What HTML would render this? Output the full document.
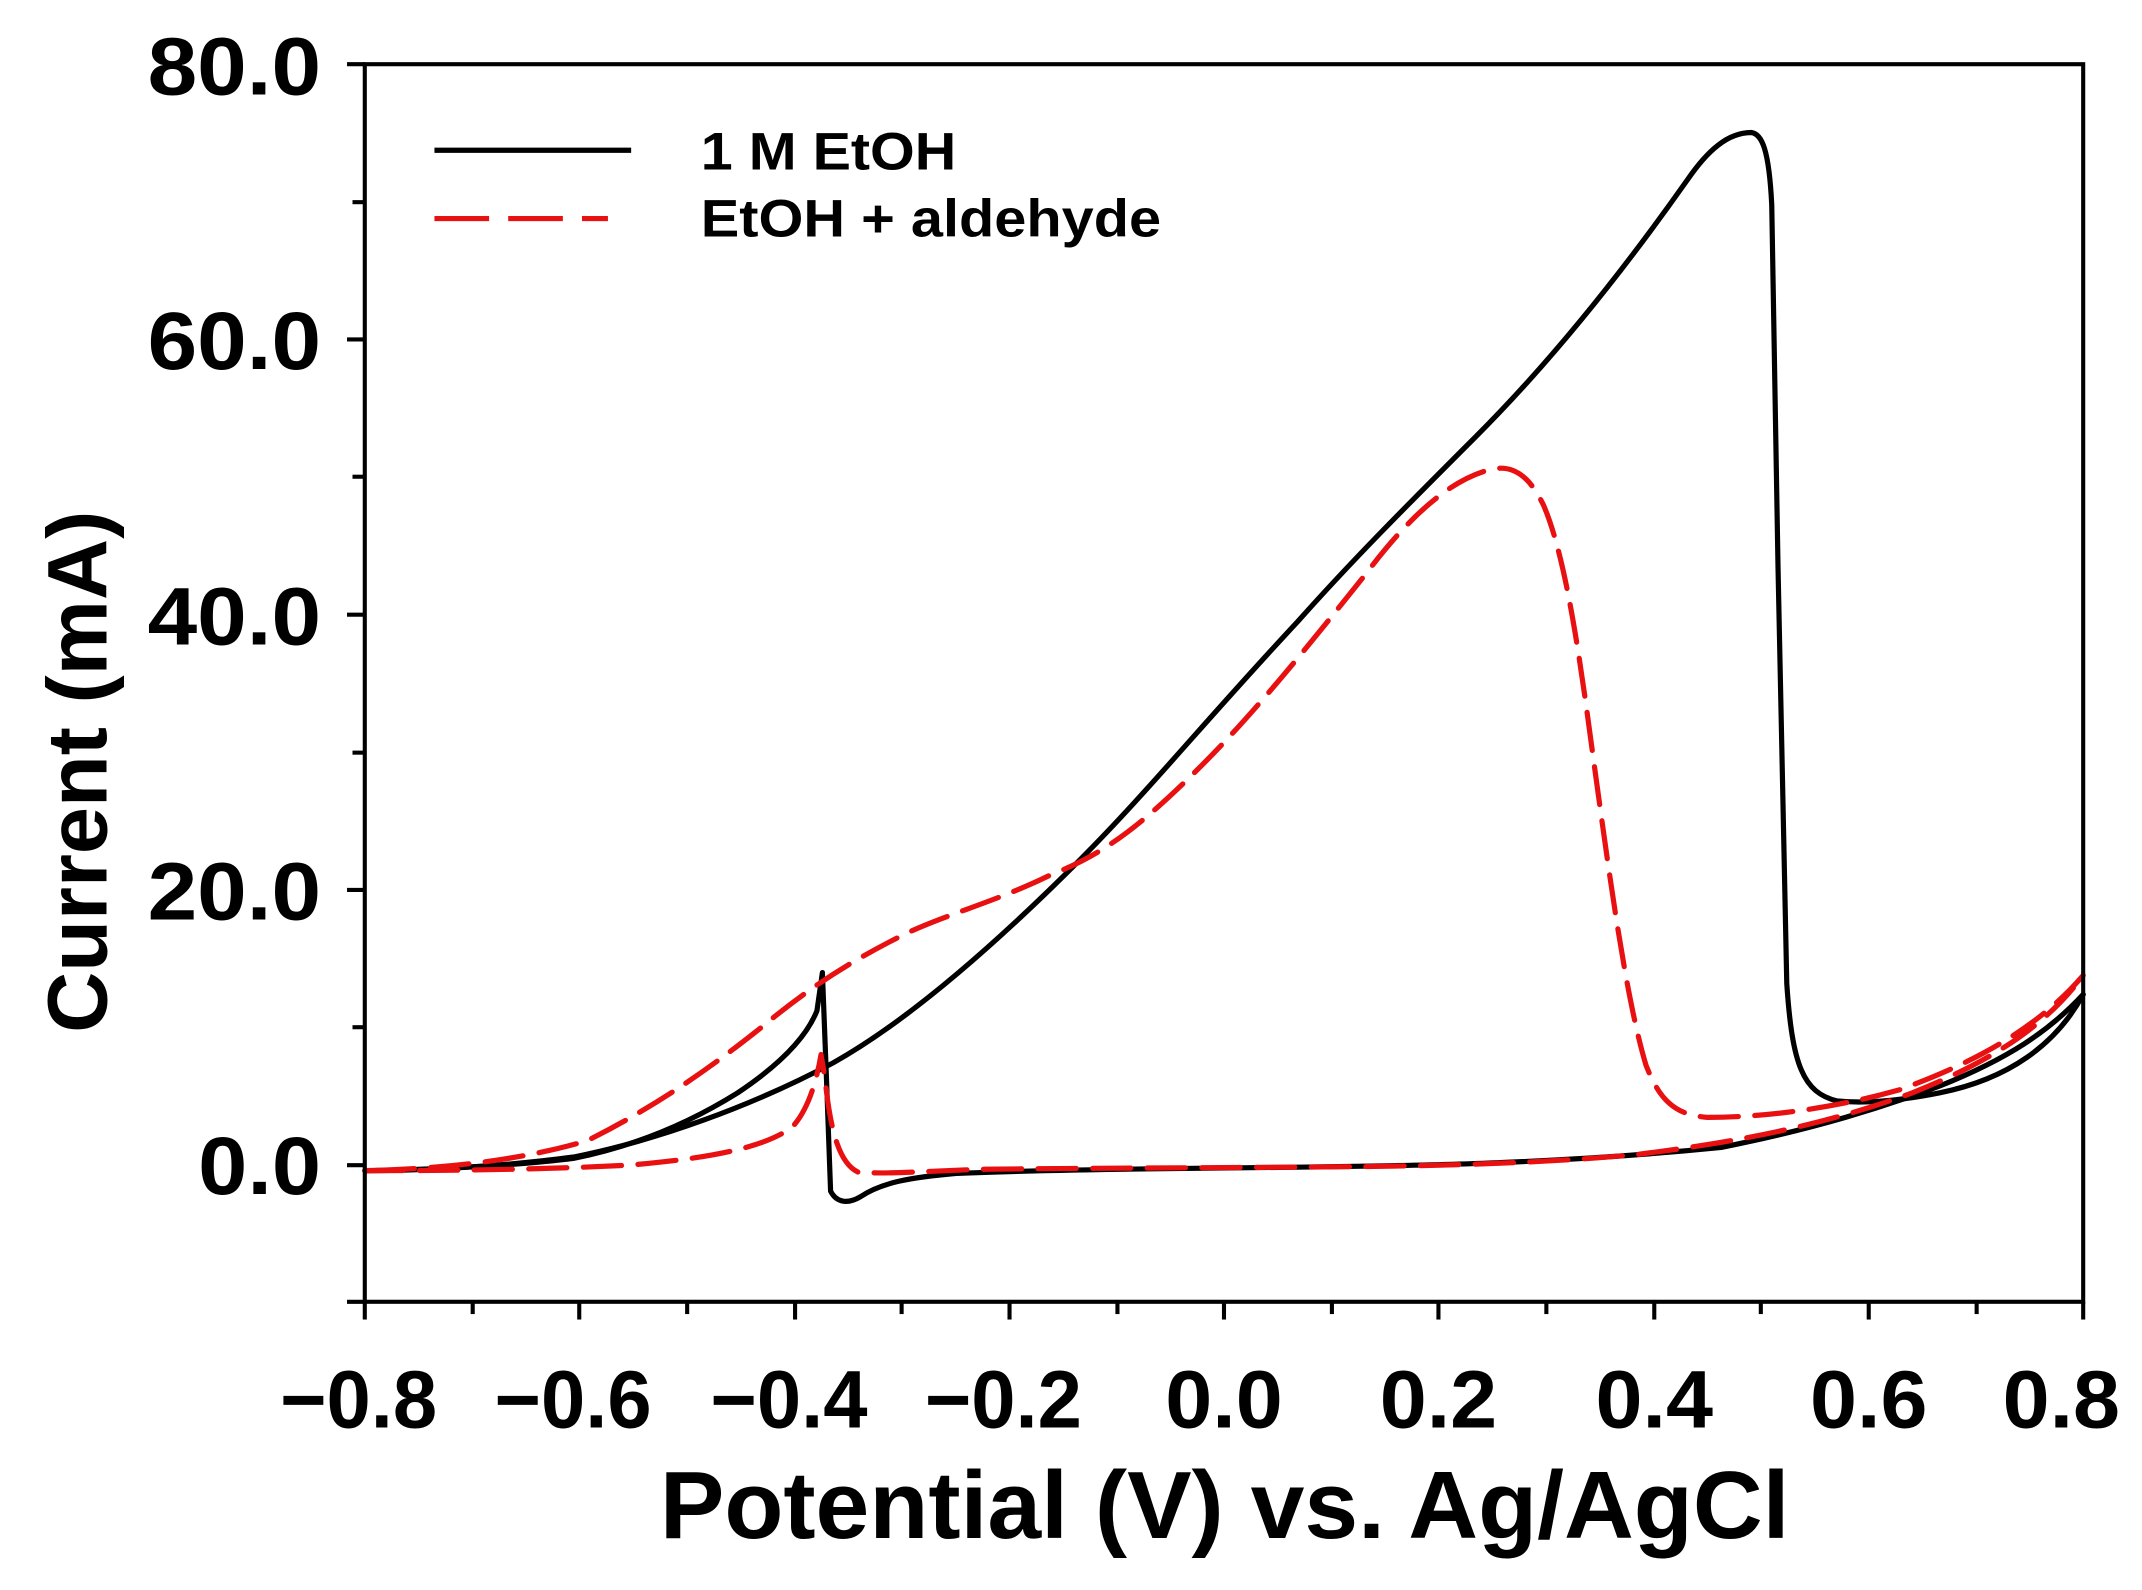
<!DOCTYPE html>
<html><head><style>html,body{margin:0;padding:0;background:#fff}svg{display:block}</style></head>
<body>
<svg width="2142" height="1590" viewBox="0 0 1568 1164" xmlns="http://www.w3.org/2000/svg">
<rect width="1568" height="1164" fill="#fff"/>
<g fill="none" stroke-linejoin="round" stroke-linecap="round">
<path stroke="#000" stroke-width="3.8" d="M267,857 C330,856 390,852 420,848 C460,840 500,825 540,800 C570,780 590,760 598,740 L602,712 L605,790 L608,872 C612,880 620,882 630,876 C645,866 665,862 700,859 C750,857 800,856 900,855 C1000,854 1060,853 1100,851 C1150,849 1200,846 1260,840 C1330,826 1380,810 1420,795 C1470,775 1500,755 1525,728"/>
<path stroke="#000" stroke-width="3.8" d="M1525,728 C1505,765 1470,790 1420,800 C1390,806 1365,808 1345,806 C1320,800 1312,780 1308,720 C1304,600 1300,300 1297,150 C1295,110 1290,98 1282,97 C1265,97 1250,110 1235,132 C1180,210 1130,270 1080,320 C1030,370 990,410 950,455 C880,530 840,580 790,630 C720,700 660,750 610,778 C550,810 480,835 420,847 C360,855 300,857 267,857"/>
<path stroke="#e81010" stroke-width="3.8" stroke-dasharray="28,12" d="M267,857 C340,857 400,856 460,853 C520,848 560,840 580,825 C592,812 598,790 601,772 L604,790 C608,830 615,852 628,858 C650,860 680,857 720,856 C800,855 900,855 1000,854 C1080,853 1150,850 1200,845 C1280,835 1340,822 1400,800 C1450,780 1495,755 1525,714"/>
<path stroke="#e81010" stroke-width="3.8" stroke-dasharray="28,12" d="M1525,714 C1490,755 1440,780 1390,798 C1340,812 1290,818 1250,818 C1225,816 1215,805 1205,780 C1190,730 1178,640 1165,545 C1155,470 1145,405 1130,370 C1118,345 1105,340 1090,344 C1060,352 1030,380 1000,420 C960,470 920,520 880,560 C840,600 810,625 770,640 C730,660 690,670 660,685 C620,705 590,725 560,750 C520,782 480,810 430,835 C380,850 320,856 267,857"/>
</g>
<rect x="267" y="47" width="1258" height="906" fill="none" stroke="#000" stroke-width="3"/>
<g stroke="#000" stroke-width="3">
<line x1="254" y1="47" x2="267" y2="47"/><line x1="254" y1="248.5" x2="267" y2="248.5"/><line x1="254" y1="450" x2="267" y2="450"/><line x1="254" y1="651.5" x2="267" y2="651.5"/><line x1="254" y1="853" x2="267" y2="853"/><line x1="254" y1="953" x2="267" y2="953"/>
<line x1="258" y1="148" x2="267" y2="148"/><line x1="258" y1="349" x2="267" y2="349"/><line x1="258" y1="551" x2="267" y2="551"/><line x1="258" y1="752" x2="267" y2="752"/>
<line x1="267" y1="953" x2="267" y2="966"/><line x1="424" y1="953" x2="424" y2="966"/><line x1="582" y1="953" x2="582" y2="966"/><line x1="739" y1="953" x2="739" y2="966"/><line x1="896" y1="953" x2="896" y2="966"/><line x1="1053" y1="953" x2="1053" y2="966"/><line x1="1211" y1="953" x2="1211" y2="966"/><line x1="1368" y1="953" x2="1368" y2="966"/><line x1="1525" y1="953" x2="1525" y2="966"/>
<line x1="346" y1="953" x2="346" y2="962"/><line x1="503" y1="953" x2="503" y2="962"/><line x1="660" y1="953" x2="660" y2="962"/><line x1="818" y1="953" x2="818" y2="962"/><line x1="975" y1="953" x2="975" y2="962"/><line x1="1132" y1="953" x2="1132" y2="962"/><line x1="1289" y1="953" x2="1289" y2="962"/><line x1="1447" y1="953" x2="1447" y2="962"/>
</g>
<g font-family="Liberation Sans, sans-serif" font-weight="bold" fill="#000">
<g font-size="60">
<text x="108" y="69" textLength="127" lengthAdjust="spacingAndGlyphs">80.0</text>
<text x="108" y="270" textLength="127" lengthAdjust="spacingAndGlyphs">60.0</text>
<text x="108" y="472" textLength="127" lengthAdjust="spacingAndGlyphs">40.0</text>
<text x="108" y="673" textLength="127" lengthAdjust="spacingAndGlyphs">20.0</text>
<text x="145" y="874" textLength="90" lengthAdjust="spacingAndGlyphs">0.0</text>
</g>
<g font-size="60">
<text x="205" y="1045" textLength="115" lengthAdjust="spacingAndGlyphs">−0.8</text>
<text x="362" y="1045" textLength="115" lengthAdjust="spacingAndGlyphs">−0.6</text>
<text x="520" y="1045" textLength="115" lengthAdjust="spacingAndGlyphs">−0.4</text>
<text x="677" y="1045" textLength="115" lengthAdjust="spacingAndGlyphs">−0.2</text>
<text x="853" y="1045" textLength="86" lengthAdjust="spacingAndGlyphs">0.0</text>
<text x="1010" y="1045" textLength="86" lengthAdjust="spacingAndGlyphs">0.2</text>
<text x="1168" y="1045" textLength="86" lengthAdjust="spacingAndGlyphs">0.4</text>
<text x="1325" y="1045" textLength="86" lengthAdjust="spacingAndGlyphs">0.6</text>
<text x="1466" y="1045" textLength="86" lengthAdjust="spacingAndGlyphs">0.8</text>
</g>
<text x="483" y="1126" font-size="70" textLength="827" lengthAdjust="spacingAndGlyphs">Potential (V) vs. Ag/AgCl</text>
<text transform="translate(78,565) rotate(-90)" font-size="62" text-anchor="middle">Current (mA)</text>
<g font-size="39">
<text x="513" y="124" textLength="187" lengthAdjust="spacingAndGlyphs">1 M EtOH</text>
<text x="513" y="173" textLength="337" lengthAdjust="spacingAndGlyphs">EtOH + aldehyde</text>
</g>
</g>
<line x1="318" y1="110" x2="462" y2="110" stroke="#000" stroke-width="3.8"/>
<line x1="318" y1="160" x2="445" y2="160" stroke="#e81010" stroke-width="3.8" stroke-dasharray="40,14"/>
</svg>
</body></html>
